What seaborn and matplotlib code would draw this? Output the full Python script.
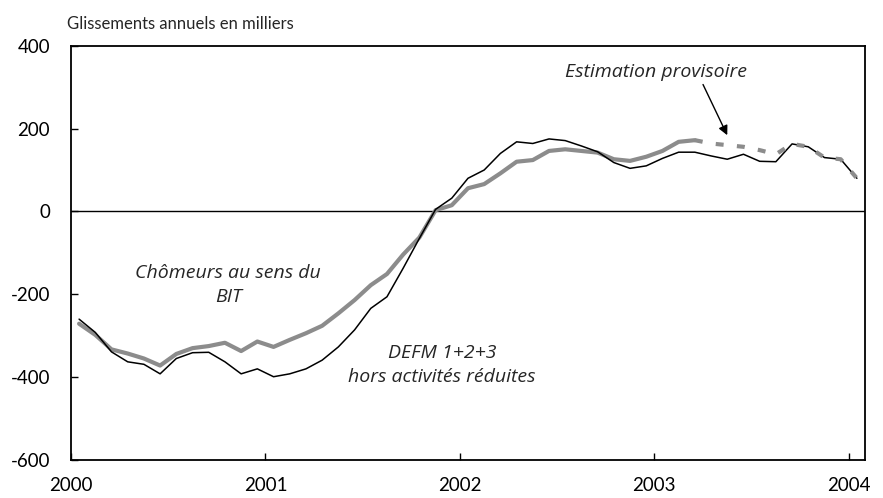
import numpy as np
import pandas as pd
import seaborn as sns
import matplotlib.pyplot as plt

# monthly data, Jan 2000 -> Jan 2004 (annual change, thousands)
years = ['2000', '2001', '2002', '2003', '2004']
defm = [-260, -292, -339, -363, -369, -392, -355, -341, -340, -363, -392, -380,
        -399, -392, -380, -359, -327, -286, -234, -206, -137, -65, 5, 32,
        80, 100, 140, 168, 164, 175, 171, 158, 144, 118, 104, 110,
        128, 143, 143, 134, 126, 138, 121, 120, 163, 156, 130, 126,
        80]
bit = [-271, -298, -333, -343, -355, -372, -344, -330, -325, -317, -337, -314,
       -327, -310, -294, -276, -246, -214, -178, -151, -104, -63, 3, 15,
       56, 66, 92, 120, 124, 146, 150, 146, 142, 126, 122, 132,
       146, 168, 172, 164, 160, 156, 148, 138, 163, 156, 130, 126,
       80]
n_observed = 39  # BIT values after this are provisional estimates

months = np.arange(len(defm)) + 0.5
df = pd.DataFrame({'month': months, 'defm': defm, 'bit': bit})
obs = df.iloc[:n_observed]
est = df.iloc[n_observed - 1:]

sns.set_style("ticks")
plt.rcParams['font.family'] = ['Lato', 'DejaVu Sans']
plt.rcParams['axes.unicode_minus'] = False

fig = plt.figure(figsize=(8.83, 4.98), dpi=100)
ax = fig.add_axes([0.0804, 0.0763, 0.8992, 0.8319])

ax.axhline(0, color='black', linewidth=1.0, zorder=1)
sns.lineplot(data=obs, x='month', y='bit', color='#8c8c8c', linewidth=3.0, ax=ax)
sns.lineplot(data=df, x='month', y='defm', color='black', linewidth=1.1, ax=ax)
sns.lineplot(data=est, x='month', y='bit', color='#8c8c8c', linewidth=3.0, ax=ax,
             dashes=False)
ax.lines[-1].set_dashes((1.9, 3.2))
ax.lines[-1].set_dash_capstyle('butt')

ax.set_xlim(0, 49)
ax.set_ylim(-600, 400)
ax.set_xticks([0, 12, 24, 36, 48])
ax.set_xticklabels(years)
ax.set_yticks([-600, -400, -200, 0, 200, 400])
ax.tick_params(axis='both', direction='in', length=5, width=1, labelsize=13.5,
               color='black', labelcolor='black')
ax.tick_params(axis='x', pad=12)
ax.tick_params(axis='y', pad=15)
ax.set_xlabel('')
ax.set_ylabel('')
for s in ax.spines.values():
    s.set_visible(True)
    s.set_color('black')
    s.set_linewidth(1.3)

fig.text(0.076, 0.952, 'Glissements annuels en milliers', fontsize=12,
         ha='left', va='center')

note = dict(style='italic', fontsize=14, family=['Open Sans', 'DejaVu Sans'],
            ha='center', va='center', linespacing=1.45)
ax.text(9.7, -178, 'Chômeurs au sens du\nBIT', **note)
ax.text(22.9, -371, 'DEFM 1+2+3\nhors activités réduites', **note)
ax.annotate('Estimation provisoire', xy=(40.5, 184), xytext=(36.1, 336),
            arrowprops=dict(arrowstyle='-|>', color='black', lw=1.0,
                            mutation_scale=14, shrinkA=0, shrinkB=0,
                            relpos=(0.75, 0.0)), **note)

plt.savefig('out.png', dpi=100)
